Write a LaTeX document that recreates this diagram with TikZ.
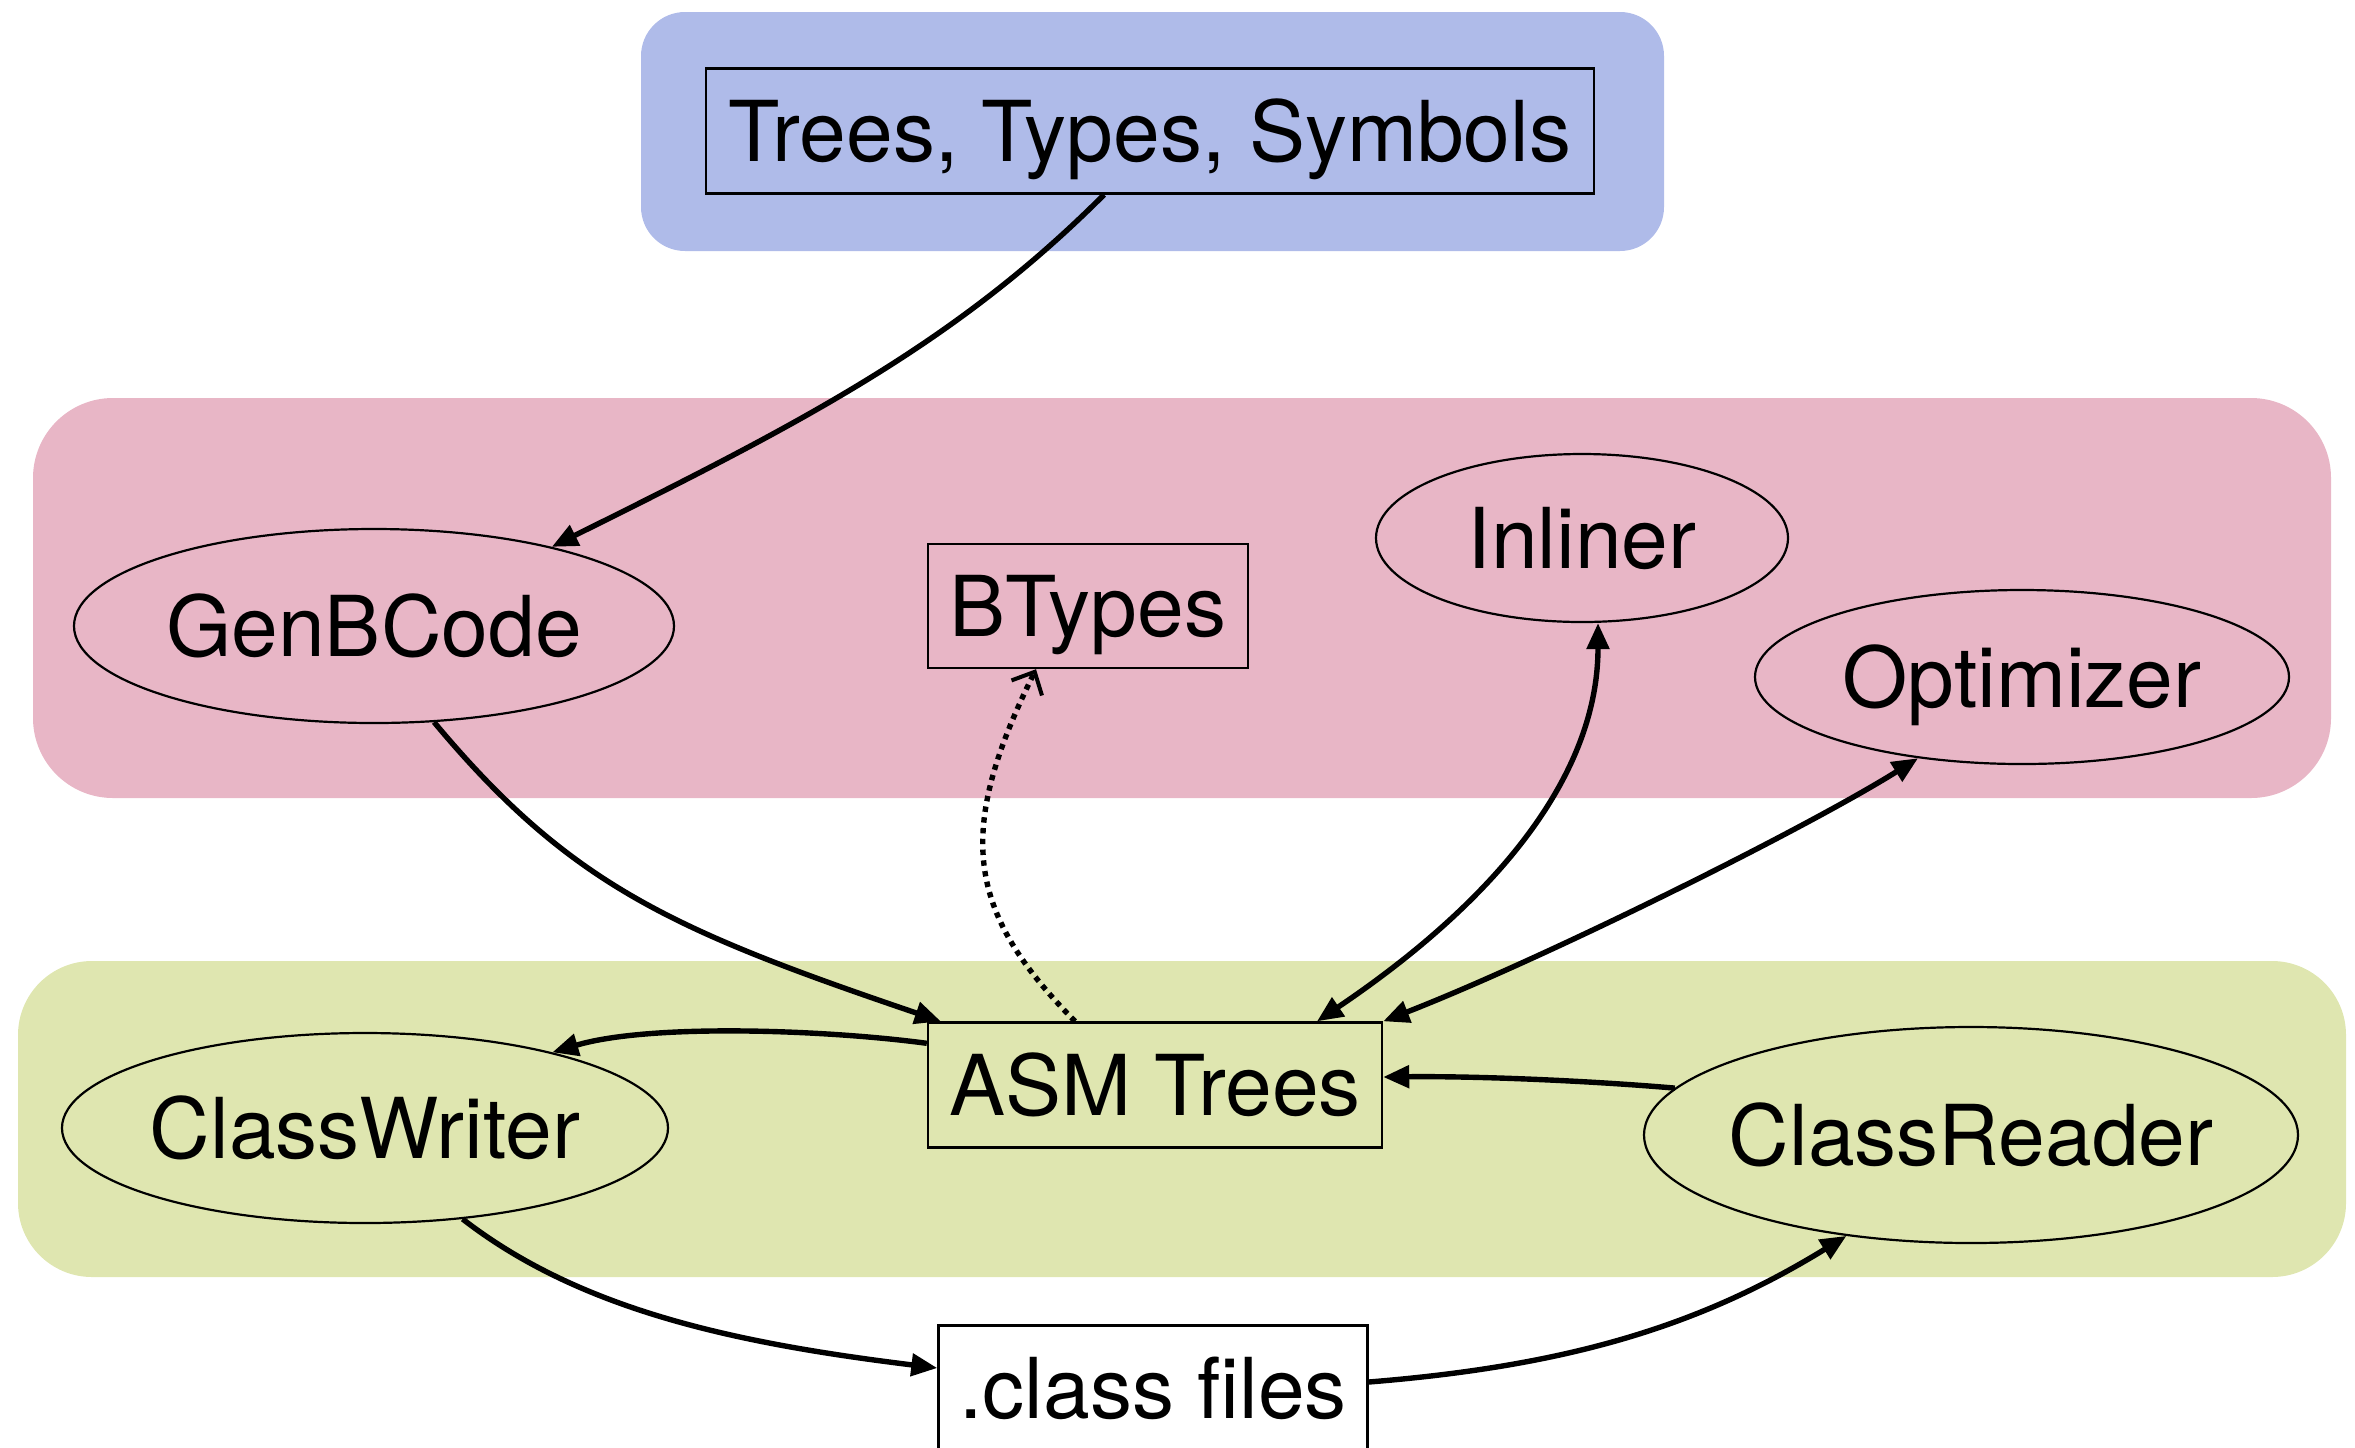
\documentclass[tikz,border=0pt]{standalone}
\usepackage{fontspec}
\setmainfont{TeX Gyre Heros}
\usetikzlibrary{shapes.geometric,arrows.meta,calc}
\definecolor{blueband}{RGB}{175,187,233}
\definecolor{pinkband}{RGB}{232,182,198}
\definecolor{greenband}{RGB}{223,230,176}
\begin{document}
\begin{tikzpicture}[x=0.5pt,y=-0.5pt,
  lbl/.style={font=\fontsize{42}{50}\selectfont, text=black, text height=30.2pt, text depth=0pt},
  boxnode/.style={lbl, draw=black, line width=1.2pt, rectangle, inner sep=0pt},
  ellnode/.style={lbl, draw=black, line width=1.1pt, ellipse, inner xsep=-15pt, inner ysep=0pt},
  conn/.style={line width=2.7pt, -{Triangle[length=13pt,width=11pt]}},
  bconn/.style={line width=2.7pt, {Triangle[length=13pt,width=11pt]}-{Triangle[length=13pt,width=11pt]}},
  dotconn/.style={line width=2.7pt, dash pattern=on 2.7pt off 2.7pt, -{Straight Barb[length=9pt,width=17pt,line width=2pt]}}]
\useasboundingbox (0,0) rectangle (2355,1447);
% bands
\fill[blueband, rounded corners=22pt] (641,12) rectangle (1664,251);
\fill[pinkband, rounded corners=40pt] (33,398) rectangle (2331,798);
\fill[greenband, rounded corners=37pt] (18,961) rectangle (2346,1277);
% nodes
\node[boxnode, minimum width=444pt, minimum height=62.5pt] (trees) at (1150,131) {Trees, Types, Symbols};
\node[ellnode, minimum width=300pt, minimum height=97pt] (gen) at (374,626) {GenBCode};
\node[boxnode, minimum width=160pt, minimum height=62pt] (btypes) at (1088,606) {BTypes};
\node[ellnode, minimum width=206pt, minimum height=84pt] (inl) at (1582,538) {Inliner};
\node[ellnode, minimum width=267pt, minimum height=87pt] (opt) at (2022,677) {Optimizer};
\node[boxnode, minimum width=227pt, minimum height=62.5pt] (asm) at (1155,1085) {ASM Trees};
\node[ellnode, minimum width=303pt, minimum height=95pt] (cw) at (365,1128) {ClassWriter};
\node[ellnode, minimum width=327pt, minimum height=108pt] (cr) at (1971,1135) {ClassReader};
\node[boxnode, fill=white, minimum width=214.5pt, minimum height=62.5pt] (cls) at (1153,1388) {.class files};
% connectors
\draw[conn] ([xshift=-23pt]trees.south) .. controls (954,345) and (799,424) .. (gen.24);
\draw[conn] (gen.-58) .. controls (570,885) and (672,930) .. ([xshift=7pt]asm.north west);
\draw[dotconn] ([xshift=-40pt]asm.north) .. controls (965,910) and (956,831) .. ([xshift=-26pt]btypes.south);
\draw[bconn] ([xshift=81pt]asm.north) .. controls (1497,900) and (1598,775) .. ([xshift=8pt]inl.south);
\draw[bconn] (asm.north east) .. controls (1545,958) and (1803,830) .. (opt.-142);
\draw[conn] ([yshift=-11pt]asm.north west) .. controls (828,1030) and (651,1023) .. (cw.22);
\draw[conn] (cr.171) .. controls (1580,1080) and (1470,1076) .. ([yshift=4pt]asm.east);
\draw[conn] (cw.-43) .. controls (580,1310) and (734,1343) .. ([yshift=10pt]cls.west);
\draw[conn] ([yshift=3pt]cls.east) .. controls (1568,1366) and (1700,1326) .. (cr.-141);
\end{tikzpicture}
\end{document}
